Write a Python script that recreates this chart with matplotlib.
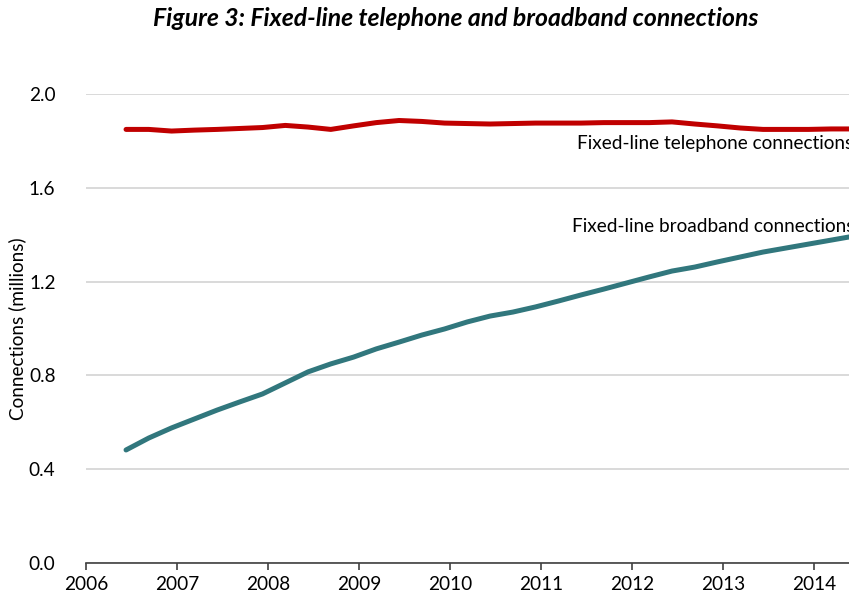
import matplotlib.pyplot as plt

plt.rcParams['font.family'] = ['Lato', 'DejaVu Sans']

# quarterly observations, June 2006 onwards (decimal years)
quarters = [2006.44, 2006.69, 2006.94, 2007.19, 2007.44, 2007.69, 2007.94, 2008.19,
            2008.44, 2008.69, 2008.94, 2009.19, 2009.44, 2009.69, 2009.94, 2010.19,
            2010.44, 2010.69, 2010.94, 2011.19, 2011.44, 2011.69, 2011.94, 2012.19,
            2012.44, 2012.69, 2012.94, 2013.19, 2013.44, 2013.69, 2013.94, 2014.19,
            2014.44]

telephone = [1.849, 1.849, 1.842, 1.846, 1.849, 1.853, 1.857, 1.866,
             1.859, 1.849, 1.864, 1.878, 1.887, 1.883, 1.876, 1.874,
             1.872, 1.874, 1.876, 1.876, 1.876, 1.878, 1.878, 1.878,
             1.881, 1.872, 1.864, 1.855, 1.849, 1.849, 1.849, 1.851,
             1.851]

broadband = [0.482, 0.533, 0.576, 0.614, 0.652, 0.687, 0.721, 0.768,
             0.815, 0.849, 0.878, 0.913, 0.942, 0.972, 0.998, 1.028,
             1.053, 1.070, 1.092, 1.117, 1.143, 1.168, 1.194, 1.220,
             1.245, 1.262, 1.284, 1.305, 1.326, 1.343, 1.360, 1.377,
             1.394]

years = [2006, 2007, 2008, 2009, 2010, 2011, 2012, 2013, 2014]
yticks = [0.0, 0.4, 0.8, 1.2, 1.6, 2.0]

fig = plt.figure(figsize=(8.49, 6.01), dpi=100)
ax = fig.add_axes([86 / 849, 38 / 601, 1 - 86 / 849, 469 / 601])

ax.plot(quarters, telephone, color='#C00000', lw=3.6, solid_capstyle='round')
ax.plot(quarters, broadband, color='#31777D', lw=3.6, solid_capstyle='round')

ax.set_xlim(2006, 2014.385)
ax.set_ylim(0, 2.0)
ax.set_xticks(years)
ax.set_yticks(yticks)
ax.set_yticklabels([f'{v:.1f}' for v in yticks])
ax.grid(axis='y', color='#d9d9d9', lw=1.4)
ax.set_axisbelow(True)

for side in ['top', 'right', 'left']:
    ax.spines[side].set_visible(False)
ax.spines['bottom'].set_color('#404040')
ax.spines['bottom'].set_linewidth(1.2)
ax.tick_params(axis='x', direction='out', length=5, width=1.2, color='#404040',
               labelsize=13.7, pad=4)
ax.tick_params(axis='y', length=0, labelsize=13.7, pad=22)

ax.set_ylabel('Connections (millions)', fontsize=13.7)
ax.yaxis.set_label_coords(-0.078, 0.5)

ax.text(2011.40, 1.79, 'Fixed-line telephone connections', fontsize=13.7,
        va='center', ha='left', clip_on=False)
ax.text(2011.34, 1.437, 'Fixed-line broadband connections', fontsize=13.7,
        va='center', ha='left', clip_on=False)

fig.text(456 / 849, 1 - 18 / 601, 'Figure 3: Fixed-line telephone and broadband connections',
         fontsize=17.8, fontweight='bold', fontstyle='italic', ha='center', va='center')

fig.savefig('out.png', dpi=100)
